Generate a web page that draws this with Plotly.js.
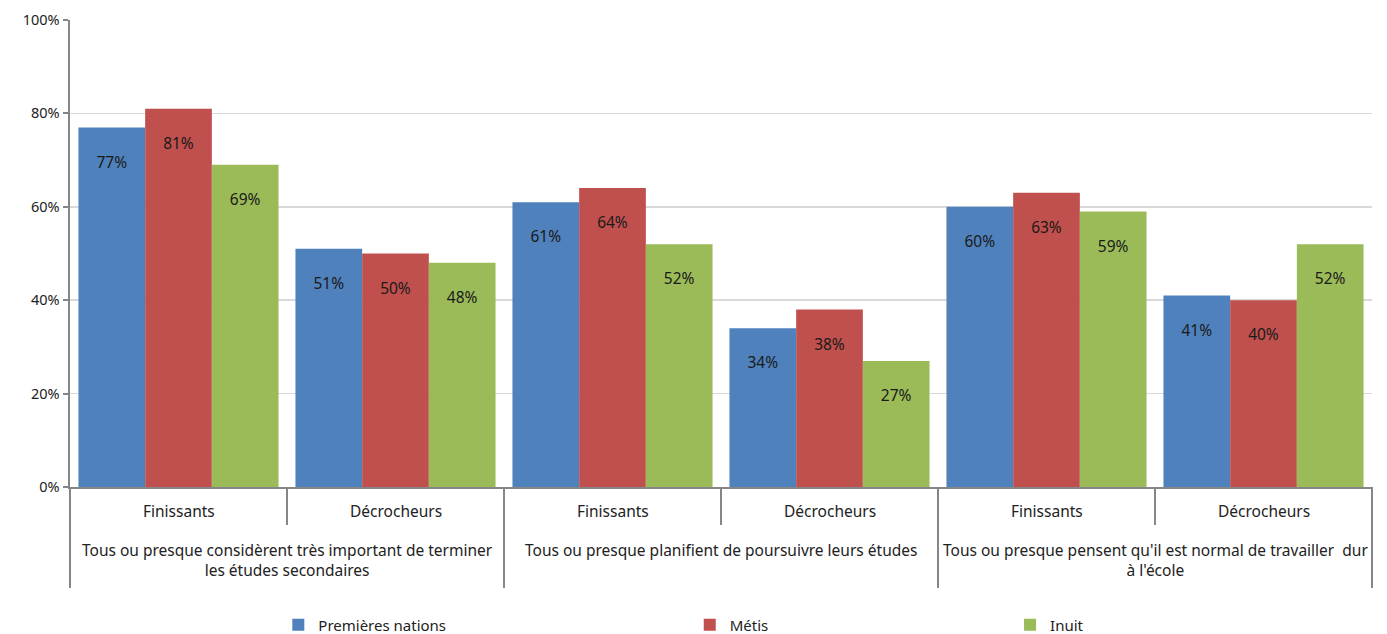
<!DOCTYPE html>
<html><head><meta charset="utf-8">
<script src="https://cdn.plot.ly/plotly-3.0.1.min.js"></script>
<style>body{margin:0;background:#fff}</style>
</head><body><div id="chart" style="width:1387px;height:634px"></div>
<script>
const questions = [
  "Tous ou presque considèrent très important de terminer<br>les études secondaires",
  "Tous ou presque planifient de poursuivre leurs études",
  "Tous ou presque pensent qu'il est normal de travailler  dur<br>à l'école"
];
const groups = ["Finissants", "Décrocheurs"];
const questionOfBar = [0, 0, 1, 1, 2, 2];
const innerLabels = [groups[0], groups[1], groups[0], groups[1], groups[0], groups[1]];
const seriesNames = ["Premières nations", "Métis", "Inuit"];
const premieresNations = [77, 51, 61, 34, 60, 41];
const metis = [81, 50, 64, 38, 63, 40];
const inuit = [69, 48, 52, 27, 59, 52];
const seriesValues = [premieresNations, metis, inuit];
const colors = ["#4F81BD", "#C0504D", "#9BBB59"];
const legendNames = ["legend", "legend2", "legend3"];
const legendX = [0.16, 0.476, 0.722];

// unique category keys built from the label arrays
const cats = innerLabels.map((g, i) => "Q" + questionOfBar[i] + " · " + g);

const FONT = "Noto Sans, sans-serif";
const LINE = "#868686";
const traces = seriesValues.map((vals, i) => ({
  type: "bar",
  name: seriesNames[i],
  x: cats,
  y: vals,
  marker: {color: colors[i], line: {width: 0}},
  texttemplate: "\u00A0<br>%{value}",
  textposition: "inside",
  insidetextanchor: "end",
  textangle: 0,
  textfont: {family: FONT, size: 15.5, color: "#1a1a1a"},
  legend: legendNames[i],
  hoverinfo: "skip"
}));

const plotH = 634 - 20 - 147;
const py = px => (487 - px) / plotH;          // pixel row -> paper y
const boundaryX = n => n / cats.length;        // boundary after n categories -> paper x

const annotations = [];
const shapes = [];
cats.forEach((c, i) => {
  annotations.push({xref: "x", yref: "paper", x: c, y: py(511), yanchor: "middle",
    text: innerLabels[i], showarrow: false, font: {family: FONT, size: 15.5, color: "#222"}});
});
questions.forEach((q, k) => {
  const idx = questionOfBar.indexOf(k);
  annotations.push({xref: "x", yref: "paper", x: idx + 0.5, y: py(537), yanchor: "top",
    text: q, showarrow: false, align: "center",
    font: {family: FONT, size: 15.5, color: "#222"}});
});
// inner dividers between sub-categories of one question
questions.forEach((q, k) => {
  const n = questionOfBar.indexOf(k) + 1;
  shapes.push({type: "line", xref: "paper", yref: "paper", x0: boundaryX(n), x1: boundaryX(n),
    y0: 0, y1: py(525), line: {color: LINE, width: 2}});
});
// outer dividers between questions (and at both ends)
for (let k = 0; k <= questions.length; k++) {
  const n = k === questions.length ? cats.length : questionOfBar.indexOf(k);
  shapes.push({type: "line", xref: "paper", yref: "paper", x0: boundaryX(n), x1: boundaryX(n),
    y0: 0, y1: py(588), line: {color: LINE, width: 2}});
}

const legendBase = {
  orientation: "h", y: py(625), yanchor: "middle", xanchor: "left",
  font: {family: FONT, size: 15, color: "#222"}, bgcolor: "rgba(0,0,0,0)"
};
const layout = {
  width: 1387, height: 634,
  margin: {l: 70, r: 15, t: 20, b: 147, autoexpand: false},
  paper_bgcolor: "#fff", plot_bgcolor: "#fff",
  barmode: "group", bargap: 0.078, bargroupgap: 0,
  font: {family: FONT, size: 14, color: "#222"},
  xaxis: {
    type: "category", range: [-0.5, 5.5],
    showticklabels: false, ticks: "",
    showline: true, linecolor: LINE, linewidth: 2,
    showgrid: false, automargin: false
  },
  yaxis: {
    range: [0, 100], dtick: 20, ticksuffix: "%",
    showline: true, linecolor: LINE, linewidth: 2.5,
    ticks: "outside", ticklen: 5, tickcolor: LINE, tickwidth: 2,
    showgrid: true, gridcolor: "#D9D9D9", gridwidth: 1.5,
    zeroline: false, automargin: false,
    tickfont: {family: FONT, size: 14.5, color: "#222"}
  },
  annotations: annotations,
  shapes: shapes,
  showlegend: true
};
legendNames.forEach((ln, i) => { layout[ln] = Object.assign({}, legendBase, {x: legendX[i]}); });

Plotly.newPlot("chart", traces, layout, {displayModeBar: false, staticPlot: true});
</script></body></html>
